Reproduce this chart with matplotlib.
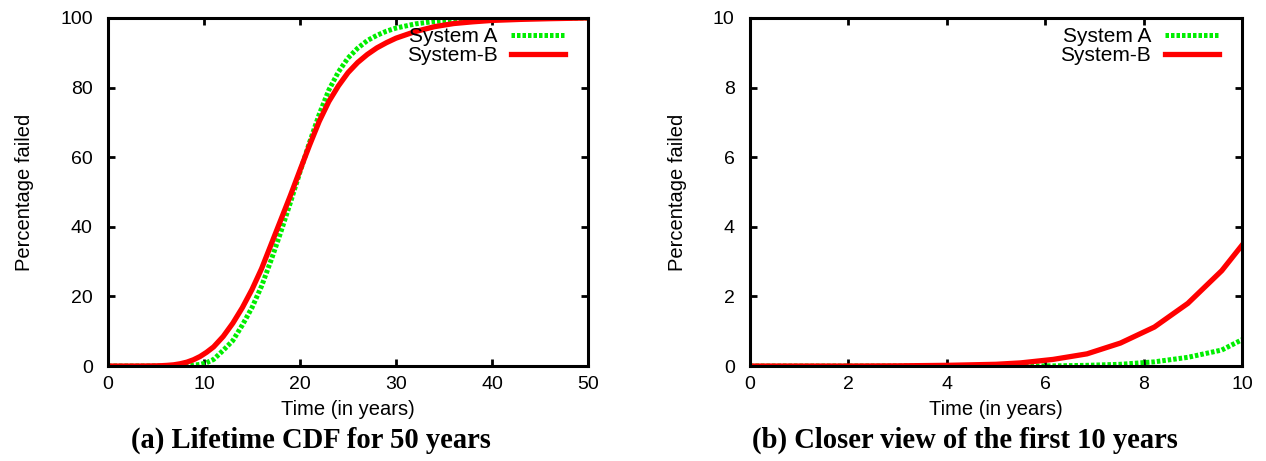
import matplotlib
matplotlib.use("Agg")
import matplotlib.pyplot as plt

years = [0, 1, 2, 3, 4, 5, 5.5, 6.16, 6.85, 7.53, 8.22, 8.9, 9.59, 10.27,
         11, 12, 13, 14, 15, 16, 17, 18, 19, 20, 21, 22, 23, 24, 25, 26,
         27, 28, 29, 30, 32, 34, 36, 38, 40, 43, 46, 50]

system_a = [0, 0, 0, 0, 0, 0, 0, 0.005, 0.02, 0.05, 0.12, 0.25, 0.46, 0.95,
            1.9, 4.5, 7.3, 11.8, 16.8, 23, 30.5, 38.5, 47, 55.8, 64.3, 72.3,
            79.3, 84.5, 88.5, 91.3, 93.5, 95, 96.2, 97.1, 98.3, 99, 99.4,
            99.7, 99.85, 99.95, 100, 100]

system_b = [0, 0, 0, 0.005, 0.02, 0.05, 0.09, 0.19, 0.35, 0.66, 1.12, 1.8,
            2.74, 3.95, 5.5, 8.5, 12.3, 16.8, 22, 28, 35, 42, 49,
            56.3, 63.5, 70.3, 76, 80.5, 84.3, 87.2, 89.5, 91.4, 92.9, 94.2,
            96.1, 97.5, 98.4, 98.9, 99.3, 99.6, 99.8, 100]

panneaux = [
    {"xmax": 50, "ymax": 100, "xticks": [0, 10, 20, 30, 40, 50],
     "yticks": [0, 20, 40, 60, 80, 100],
     "titre": "(a) Lifetime CDF for 50 years"},
    {"xmax": 10, "ymax": 10, "xticks": [0, 2, 4, 6, 8, 10],
     "yticks": [0, 2, 4, 6, 8, 10],
     "titre": "(b) Closer view of the first 10 years"},
]

plt.rcParams['font.family'] = ['Liberation Sans', 'DejaVu Sans']

fig = plt.figure(figsize=(12.66, 4.61), dpi=100)
positions = [[0.0853, 0.206, 0.3792, 0.755], [0.5924, 0.206, 0.3886, 0.755]]
x_titres = [0.2457, 0.7623]

for pos, p, xt in zip(positions, panneaux, x_titres):
    ax = fig.add_axes(pos)
    ax.plot(years, system_a, color='#00ee00', lw=3.6, linestyle=(0, (0.7, 0.4)),
            label='System A', dash_capstyle='butt')
    ax.plot(years, system_b, color='#ff0000', lw=3.8, label='System-B')
    ax.set_xlim(0, p["xmax"])
    ax.set_ylim(0, p["ymax"])
    ax.set_xticks(p["xticks"])
    ax.set_yticks(p["yticks"])
    ax.tick_params(direction='in', top=True, right=True, length=5, width=2,
                   labelsize=14)
    ax.tick_params(axis='x', pad=7)
    ax.tick_params(axis='y', pad=11)
    for s in ax.spines.values():
        s.set_linewidth(2.2)
    ax.set_xlabel("Time (in years)", fontsize=14.5, labelpad=5)
    ax.set_ylabel("Percentage failed", fontsize=14.5, labelpad=19)
    ax.legend(loc='upper right', frameon=False, markerfirst=False, fontsize=15,
              handlelength=2.6, handletextpad=0.65, labelspacing=0.0,
              borderaxespad=0.0, bbox_to_anchor=(0.97, 0.998))
    fig.text(xt, 0.045, p["titre"], ha='center', va='center', fontsize=20.6,
             fontweight='bold', family='Liberation Serif')

fig.savefig("out.png", dpi=100)
